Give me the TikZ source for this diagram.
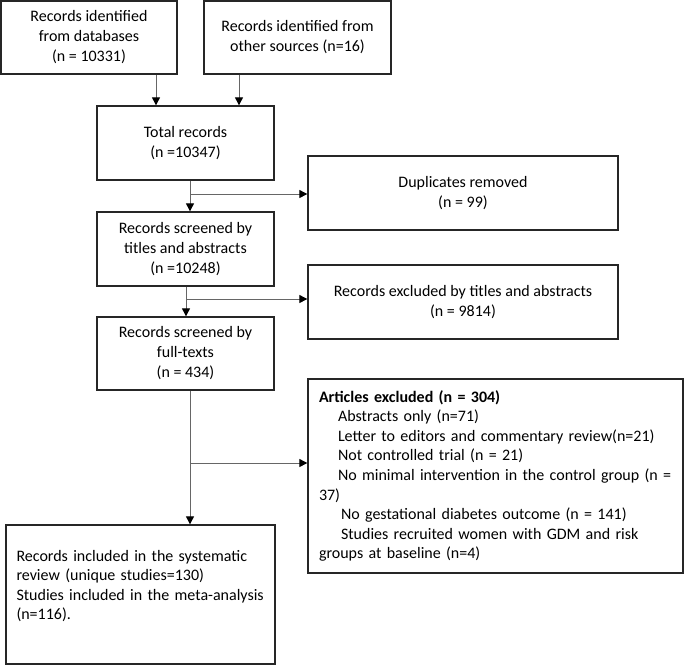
\documentclass[tikz,border=0pt]{standalone}
\usepackage{fontspec}
\setmainfont{Carlito}
\usetikzlibrary{arrows.meta}
\begin{document}
\begin{tikzpicture}[x=0.75pt,y=-0.75pt,
  box/.style={draw=black!85,line width=1pt,fill=white,align=center,inner sep=2pt,font=\fontsize{12}{15}\selectfont},
  conn/.style={draw=black!60,line width=0.75pt},
  arr/.style={conn,-{Triangle[length=6pt,width=6pt,black]}},
]
\useasboundingbox (0,0) rectangle (685,665);
\fill[white] (0,0) rectangle (685,665);
\node[box,minimum width=132pt,minimum height=54.75pt] (A) at (89,37.5) {Records identified\\from databases\\(n = 10331)};
\node[box,minimum width=140.25pt,minimum height=54.75pt] (B) at (297.5,37.5) {Records identified from\\other sources (n=16)};
\node[box,minimum width=132.75pt,minimum height=55.5pt] (tot) at (185.5,143) {Total records\\(n =10347)};
\node[box,minimum width=232.5pt,minimum height=55.5pt] (dup) at (463,193) {Duplicates removed\\(n = 99)};
\node[box,minimum width=132.75pt,minimum height=55.5pt] (scr) at (185.5,249) {Records screened by\\titles and abstracts\\(n =10248)};
\node[box,minimum width=232.5pt,minimum height=55.5pt] (exc) at (463,302) {Records excluded by titles and abstracts\\(n = 9814)};
\node[box,minimum width=132.75pt,minimum height=54.75pt] (full) at (185.5,353.5) {Records screened by\\full-texts\\(n = 434)};
\node[box,align=left,text width=264.75pt,inner xsep=8.25pt,inner ysep=2pt,minimum width=281.25pt,minimum height=145.5pt,font=\fontsize{12}{14.7}\selectfont] (art) at (495.5,476)
 {\textbf{Articles excluded (n = 304)}\\
  \hspace*{14.25pt}Abstracts only (n=71)\\
  \hspace*{14.25pt}Letter to editors and commentary review(n=21)\\
  \hspace*{14.25pt}Not controlled trial (n = 21)\\
  \hspace*{14.25pt}No minimal intervention in the control group (n =\\
  37)\\
  \hspace*{16.5pt}No gestational diabetes outcome (n = 141)\\
  \hspace*{16.5pt}Studies recruited women with GDM and risk\\
  groups at baseline (n=4)};
\node[box,align=left,text width=186pt,inner xsep=7.875pt,minimum width=201.75pt,minimum height=104.25pt,font=\fontsize{12}{14.5}\selectfont] (fin) at (140.5,594.5)
 {Records included in the systematic\\
  review (unique studies=130)\\
  Studies included in the meta-analysis\\
  (n=116).\\
  \mbox{}};
\draw[arr] (156,0 |- A.south) -- (156,0 |- tot.north);
\draw[arr] (239,0 |- B.south) -- (239,0 |- tot.north);
\draw[arr] (190,0 |- tot.south) -- (190,0 |- scr.north);
\coordinate (j1) at (190,194);
\draw[arr] (j1) -- (j1 -| dup.west);
\draw[arr] (186,0 |- scr.south) -- (186,0 |- full.north);
\coordinate (j2) at (186,299);
\draw[arr] (j2) -- (j2 -| exc.west);
\draw[arr] (190,0 |- full.south) -- (190,0 |- fin.north);
\coordinate (j3) at (190,463);
\draw[arr] (j3) -- (j3 -| art.west);
\end{tikzpicture}
\end{document}
